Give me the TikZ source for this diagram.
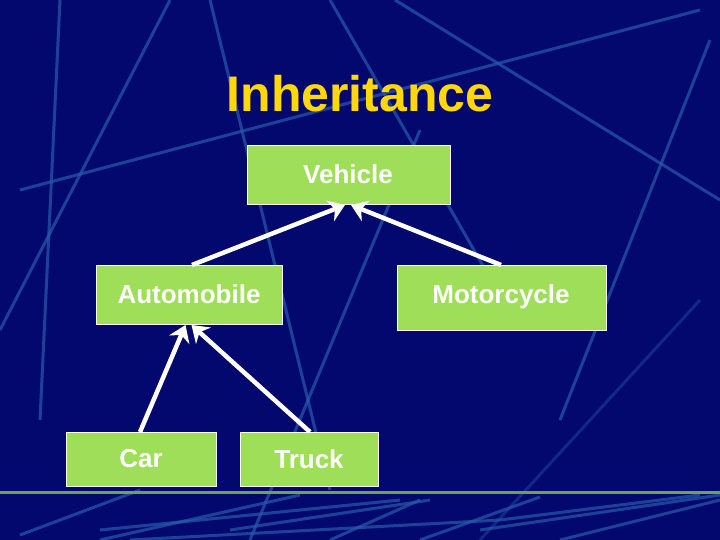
\documentclass[tikz,border=0pt]{standalone}
\usepackage{fontspec}
\setmainfont{Liberation Sans}
\usetikzlibrary{arrows.meta}
\definecolor{bg}{RGB}{2,8,110}
\definecolor{bgl}{RGB}{40,90,170}
\definecolor{boxg}{RGB}{158,222,88}
\definecolor{ttl}{RGB}{255,215,10}
\tikzset{
  cls/.style={draw=white,line width=1pt,fill=boxg,anchor=north west,inner sep=0pt},
  lbl/.style={text=white,font=\bfseries\fontsize{26}{30}\selectfont},
  inh/.style={draw=white,line width=4.5pt,-{Stealth[length=16pt,width=22pt]}},
  deco/.style={bgl,line width=3pt,opacity=0.7}
}
\begin{document}
\begin{tikzpicture}[x=1pt,y=-1pt]
\fill[bg] (0,0) rectangle (720,540);
\useasboundingbox (0,0) rectangle (720,540);
\draw[deco] (20,190) -- (700,10);
\draw[deco] (0,330) -- (170,0);
\draw[deco] (210,0) -- (330,490);
\draw[deco] (330,0) -- (520,330);
\draw[deco] (395,0) -- (720,200);
\draw[deco] (710,40) -- (560,420);
\draw[deco] (40,420) -- (60,0);
\draw[deco] (420,130) -- (250,540);
\draw[deco,opacity=0.4] (700,300) -- (480,540);
\draw[deco] (20,535) -- (140,490);
\draw[deco] (100,540) -- (300,495);
\draw[deco] (100,530) -- (400,500);
\draw[deco] (230,530) -- (430,500);
\draw[deco] (130,540) -- (500,520) -- (700,495);
\draw[deco] (330,540) -- (420,500);
\draw[deco] (420,540) -- (540,497);
\draw[deco] (480,530) -- (720,495);
\draw[deco] (560,540) -- (720,500);
\draw[boxg!70!bg,line width=3pt] (0,492) -- (720,492);
\node[text=ttl,font=\bfseries\fontsize{50}{56}\selectfont] (title) at (360,94) {Inheritance};
\node[cls,minimum width=203pt,minimum height=59pt] (veh) at (247,145) {};
\node[lbl] (vehl) at (348,174) {Vehicle};
\node[cls,minimum width=186pt,minimum height=59pt] (auto) at (96,265) {};
\node[lbl] (autol) at (189,294) {Automobile};
\node[cls,minimum width=209pt,minimum height=65pt] (moto) at (397,265) {};
\node[lbl] (motol) at (501,297) {Motorcycle};
\node[cls,minimum width=150pt,minimum height=54pt] (car) at (66,432) {};
\node[lbl] (carl) at (141,459) {Car};
\node[cls,minimum width=138pt,minimum height=54pt] (truck) at (240,432) {};
\node[lbl] (truckl) at (309,459) {Truck};
\draw[inh] (auto.north west) ++(96,0) coordinate (a1) (a1) -- ([xshift=-4pt]veh.south);
\draw[inh] (moto.north west) ++(104,0) coordinate (m1) (m1) -- ([xshift=2pt]veh.south);
\draw[inh] (car.north west) ++(74,0) coordinate (c1) (c1) -- ([xshift=-4pt]auto.south);
\draw[inh] (truck.north west) ++(70,0) coordinate (t1) (t1) -- ([xshift=2pt]auto.south);
\end{tikzpicture}
\end{document}
